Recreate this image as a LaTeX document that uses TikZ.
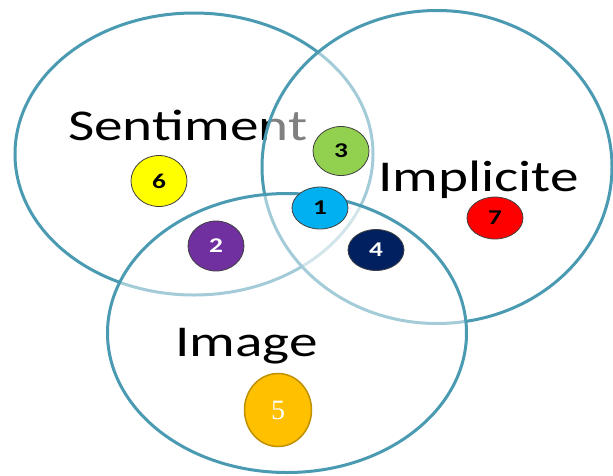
\documentclass[tikz,border=0pt]{standalone}
\usepackage{fontspec}
\usepackage{graphicx}
\setmainfont{Carlito}
\newfontfamily\numserif{Liberation Serif}
\usetikzlibrary{shapes.geometric}
\definecolor{ringblue}{RGB}{74,154,178}
\definecolor{dotyellow}{RGB}{255,255,0}
\definecolor{dotgreen}{RGB}{146,208,80}
\definecolor{dotcyan}{RGB}{0,176,240}
\definecolor{dotpurple}{RGB}{112,48,160}
\definecolor{dotnavy}{RGB}{0,32,96}
\definecolor{dotred}{RGB}{255,0,0}
\definecolor{dotgold}{RGB}{255,192,0}
\definecolor{goldedge}{RGB}{191,144,0}
\newcommand{\stretchx}[1]{\scalebox{1.3}[1]{#1}}

\begin{document}
\begin{tikzpicture}[x=1pt,y=-1pt,
  ring/.style={ellipse,draw=ringblue,line width=3pt,inner sep=0pt},
  veil/.style={fill=white,fill opacity=0.5},
  setlabel/.style={anchor=base west,inner sep=0pt,font=\fontsize{44}{44}\selectfont},
  dot/.style={ellipse,draw=black!75,line width=0.8pt,inner sep=0pt,
    minimum width=56pt,font=\bfseries\fontsize{21}{21}\selectfont}]
  \useasboundingbox (0,0) rectangle (613,475);
  % the three sets, later ones veil the earlier rings
  \node[ring,minimum width=358pt,minimum height=282pt] (sent) at (194,154) {};
  \node[setlabel] (sentlbl) at (68,140) {\stretchx{Sentiment}};
  \node[ring,veil,minimum width=350pt,minimum height=313pt] (impl) at (437,167) {};
  \node[ring,veil,minimum width=359pt,minimum height=279pt] (img) at (287,333) {};
  \node[setlabel] (impllbl) at (378,191) {\stretchx{Implicite}};
  \node[setlabel] (imglbl) at (175,356) {\stretchx{Image}};
  % numbered regions
  \node[dot,fill=dotcyan,minimum height=42pt]   (d1) at (320,208) {\stretchx{1}};
  \node[dot,fill=dotpurple,minimum height=50pt,text=white] (d2) at (216,246) {\stretchx{2}};
  \node[dot,fill=dotgreen,minimum height=49pt]  (d3) at (341,151) {\stretchx{3}};
  \node[dot,fill=dotnavy,minimum height=41pt,text=white] (d4) at (376,250) {\stretchx{4}};
  \node[dot,fill=dotgold,draw=goldedge,line width=1.5pt,minimum width=67pt,minimum height=73pt,
    text=white] (d5) at (278,410) {\numserif\mdseries\fontsize{28}{28}\selectfont 5};
  \node[dot,fill=dotyellow,minimum height=51pt] (d6) at (159,181) {\stretchx{6}};
  \node[dot,fill=dotred,minimum height=42pt]    (d7) at (495,218) {\stretchx{7}};
\end{tikzpicture}
\end{document}
